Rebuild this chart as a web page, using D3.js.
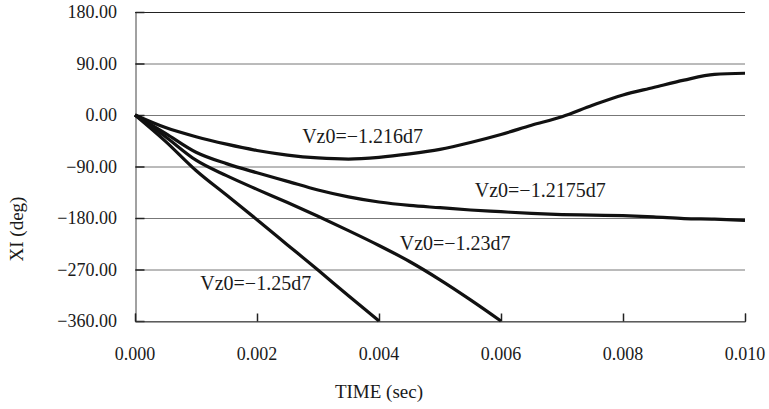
<!DOCTYPE html>
<html>
<head>
<meta charset="utf-8">
<script src="https://cdn.jsdelivr.net/npm/d3@7"></script>
<style>
  body { margin: 0; background: #fff; }
  svg text { font-family: 'Liberation Serif' !important; }
</style>
</head>
<body>
<div id="chart"></div>
<script>
const width = 769;
const height = 409;
const serif = "Liberation Serif";

// time in sec
const times = [0, 0.0005, 0.001, 0.0015, 0.002, 0.0025, 0.003, 0.0035, 0.004, 0.0045,
               0.005, 0.0055, 0.006, 0.0065, 0.007, 0.0075, 0.008, 0.0085, 0.009, 0.0095, 0.01];

// XI (deg) for each Vz0
const xi1216 = [0, -22, -38, -51, -62, -70, -75, -77, -74, -68,
                -60, -48, -34, -18, -3, 17, 35, 48, 61, 71, 73];
const xi12175 = [0, -32, -65, -85, -101, -116, -131, -143, -152, -158,
                 -162, -166, -169, -172, -174, -175, -176, -178, -181, -182, -184];
const xi123 = [0, -38, -79, -106, -130, -153, -177, -202, -228, -256,
               -288, -323, -360];
const xi125 = [0, -46, -97, -140, -183, -227, -271, -316, -360];

const series = [
  { name: "Vz0=\u22121.216d7", values: xi1216, label: [0.00274, -49] },
  { name: "Vz0=\u22121.2175d7", values: xi12175, label: [0.00557, -143] },
  { name: "Vz0=\u22121.23d7", values: xi123, label: [0.00434, -236] },
  { name: "Vz0=\u22121.25d7", values: xi125, label: [0.00107, -306] }
];

const xTicks = [0, 0.002, 0.004, 0.006, 0.008, 0.01];
const yTicks = [-360, -270, -180, -90, 0, 90, 180];

const svg = d3.select("#chart")
  .append("svg")
  .attr("width", width)
  .attr("height", height)
  .attr("font-family", serif);

const x = d3.scaleLinear().domain([0, 0.01]).range([135, 745]);
const y = d3.scaleLinear().domain([-360, 180]).range([321, 12]);

// gridlines
svg.append("g")
  .selectAll("line")
  .data(yTicks)
  .join("line")
    .attr("x1", x(0))
    .attr("x2", x(0.01))
    .attr("y1", d => y(d) + 0.5)
    .attr("y2", d => y(d) + 0.5)
    .attr("stroke", d => d === 180 ? "#222" : "#777")
    .attr("stroke-width", 1);

// y axis
const yAxis = svg.append("g")
  .attr("transform", `translate(${x(0) + 0.5},0)`)
  .call(d3.axisRight(y).tickValues(yTicks).tickSize(9).tickFormat(""));
yAxis.select(".domain").attr("stroke", "#444");
yAxis.selectAll(".tick line").attr("stroke", "#222").attr("stroke-width", 1.5);

svg.append("g")
  .selectAll("text")
  .data(yTicks)
  .join("text")
    .attr("x", 117)
    .attr("y", d => y(d))
    .attr("dy", "0.35em")
    .attr("text-anchor", "end")
    .attr("font-family", serif)
    .attr("font-size", 18)
    .attr("fill", "#1a1a1a")
    .text(d3.format(".2f"));

// x axis
const xAxis = svg.append("g")
  .attr("transform", `translate(0,${y(-360) + 0.5})`)
  .call(d3.axisTop(x).tickValues(xTicks).tickSize(8).tickFormat(""));
xAxis.select(".domain").attr("stroke", "#444");
xAxis.selectAll(".tick line").attr("stroke", "#222").attr("stroke-width", 1.5);

svg.append("g")
  .selectAll("text")
  .data(xTicks)
  .join("text")
    .attr("x", d => x(d))
    .attr("y", 354)
    .attr("dy", "0.35em")
    .attr("text-anchor", "middle")
    .attr("font-family", serif)
    .attr("font-size", 18)
    .attr("fill", "#1a1a1a")
    .text(d3.format(".3f"));

// axis titles
svg.append("text")
  .attr("x", 379)
  .attr("y", 391)
  .attr("dy", "0.35em")
  .attr("text-anchor", "middle")
  .attr("font-family", serif)
  .attr("font-size", 19)
  .attr("fill", "#1a1a1a")
  .text("TIME (sec)");

svg.append("text")
  .attr("transform", "translate(16,229) rotate(-90)")
  .attr("dy", "0.35em")
  .attr("text-anchor", "middle")
  .attr("font-family", serif)
  .attr("font-size", 19)
  .attr("fill", "#1a1a1a")
  .text("XI (deg)");

// curves
const line = d3.line()
  .x((d, i) => x(times[i]))
  .y(d => y(d))
  .curve(d3.curveMonotoneX);

svg.append("g")
  .selectAll("path")
  .data(series)
  .join("path")
    .attr("d", d => line(d.values))
    .attr("fill", "none")
    .attr("stroke", "#111")
    .attr("stroke-width", 3.2)
    .attr("stroke-linejoin", "round");

// labels
svg.append("g")
  .selectAll("text")
  .data(series)
  .join("text")
    .attr("x", d => x(d.label[0]))
    .attr("y", d => y(d.label[1]))
    .attr("font-family", serif)
    .attr("font-size", 20)
    .attr("fill", "#1a1a1a")
    .text(d => d.name);
</script>
</body>
</html>
